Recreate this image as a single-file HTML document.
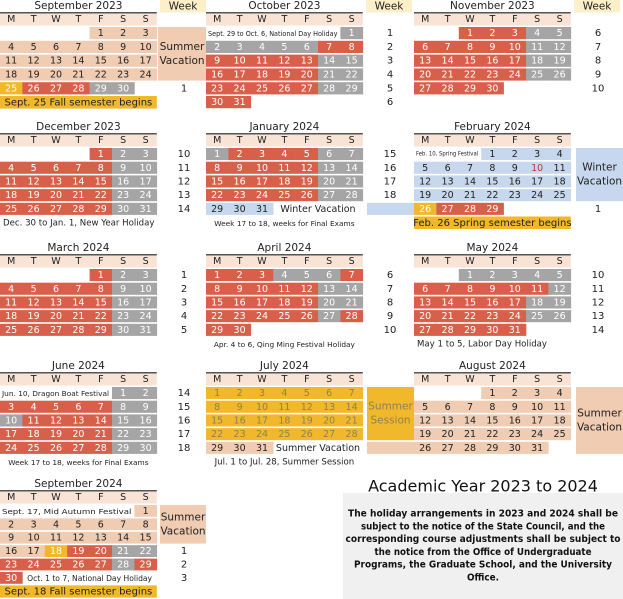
<!DOCTYPE html>
<html><head><meta charset="utf-8"><style>
html,body{margin:0;padding:0;background:#fff;width:623px;height:599px;overflow:hidden}
svg{display:block}
text{font-family:"DejaVu Sans","Liberation Sans",sans-serif}
</style></head><body>
<svg id="cal" width="623" height="599" viewBox="0 0 623 599" xmlns="http://www.w3.org/2000/svg"></svg>
<script>
// ---- data ----
const monthNames=["September 2023","October 2023","November 2023","December 2023","January 2024","February 2024","March 2024","April 2024","May 2024","June 2024","July 2024","August 2024","September 2024"];
const monthOffsets=[4,6,2,4,0,3,4,0,2,5,0,3,6];
const monthDays=[30,31,30,31,31,29,31,30,31,30,31,31,30];
// day colors: p peach, r red, g gray, y yellow, b blue, s summer session, S=standard (r weekday, g weekend)
const monthColors=[
 "pppppppppppppppppppppppp"+"yrrrgg",
 "gggggg"+"rr"+"rrrrrgg"+"rrrrrgg"+"rrrrrgg"+"rr",
 "S","S",
 "g"+"SSSSSSSSSSSSSSSSSSSSSSSSSSS"+"bbb",
 "bbbbbbbbbbbbbbbbbbbbbbbbb"+"yrrr",
 "S",
 "rrrgggr"+"rrrrrgg"+"rrrrrgg"+"rrrrrgr"+"rr",
 "ggggg"+"rrrrrrg"+"rrrrrgg"+"rrrrrgg"+"rrrrr",
 "gg"+"rrrrrgg"+"grrrrgg"+"rrrrrgg"+"rrrrrgg",
 "ssssssssssssssssssssssssssss"+"ppp",
 "S_AUG",
 "ppppppppppppppp"+"ppyrrgg"+"rrrrrgr"+"r"
];
const weekLabels=[
 ["","","","","1"],["1","2","3","4","5","6"],["6","7","8","9","10"],
 ["10","11","12","13","14"],["15","16","17","18",""],["","","","","1"],
 ["1","2","3","4","5"],["6","7","8","9","10"],["10","11","12","13","14"],
 ["14","15","16","17","18"],["","","","",""],["","","","",""],
 ["","","","1","2","3"]
];
const firstRowNotes=["","Sept. 29 to Oct. 6, National Day Holiday","","","","Feb. 10, Spring Festival","","","","Jun. 10, Dragon Boat Festival","","","Sept. 17, Mid Autumn Festival"];
const lastRowNotes=["","","","","Winter Vacation","","","","","","Summer Vacation","","Oct. 1 to 7, National Day Holiday"];
const footerNotes=["","","","Dec. 30 to Jan. 1, New Year Holiday","Week 17 to 18, weeks for Final Exams","","","Apr. 4 to 6, Qing Ming Festival Holiday","May 1 to 5, Labor Day Holiday","Week 17 to 18, weeks for Final Exams","Jul. 1 to Jul. 28, Summer Session","",""];
const footerBanners=["Sept. 25 Fall semester begins","","","","","Feb. 26 Spring semester begins","","","","","","","Sept. 18 Fall semester begins"];
const weekdayLetters=["M","T","W","T","F","S","S"];

// ---- layout ----
const BX=[0,206,414], BY=[0,121,242,360,478], RH=[13.8,13.7,13.7,13.7,13.4], CW=22.4;
const COL={p:"#f0ccb2",r:"#d8604a",g:"#a5a5a5",y:"#f0b82a",b:"#c7d8ee",s:"#f0b82a"};
const TXT={p:"#222",r:"#fff",g:"#fff",y:"#fff",b:"#222",s:"#8d8350"};
const svg=document.getElementById('cal');
const NS="http://www.w3.org/2000/svg";
function mk(tag,attrs,parent){const e=document.createElementNS(NS,tag);for(const k in attrs)e.setAttribute(k,attrs[k]);(parent||svg).appendChild(e);return e;}
function txt(s,x,y,size,fill,anchor,parent,weight){const t=mk('text',{x:x,y:y,'font-size':size,fill:fill||'#222','text-anchor':anchor||'middle','dominant-baseline':'central','font-weight':weight||'normal'},parent);t.textContent=s;return t;}

// week column decorations (behind)
const decor=[
 {m:0,r0:0,r1:3,c:"#f0ccb2",t:["Summer","Vacation"],x0:158,x1:206},
 {m:4,r0:4,r1:4,c:"#c7d8ee",t:[],x0:161,x1:208},
 {m:5,r0:0,r1:3,c:"#c7d8ee",t:["Winter","Vacation"],x0:162,x1:209},
 {m:10,r0:0,r1:3,c:"#f0b82a",t:["Summer","Session"],x0:161,x1:208},
 {m:10,r0:4,r1:4,c:"#f0ccb2",t:[],x0:161,x1:208},
 {m:11,r0:0,r1:4,c:"#f0ccb2",t:["Summer","Vacation"],x0:162,x1:209},
 {m:12,r0:0,r1:2,c:"#f0ccb2",t:["Summer","Vacation"],x0:160,x1:206}
];

// week headers
for(let b=0;b<3;b++){
 const g=mk('g',{});
 
 
 mk('rect',{x:BX[b]+160,y:0,width:46,height:12.5,fill:"#fdf0c8"},g);
 txt("Week",BX[b]+183,6.5,10.5,"#222","middle",g);
}

monthNames.forEach((name,m)=>{
 const bx=BX[m%3], row=Math.floor(m/3), T=BY[row], rh=RH[row];
 const g=mk('g',{});
 
 
 const y0=T+27;
 // decorations
 decor.filter(d=>d.m===m).forEach(d=>{
  const r=mk('rect',{x:bx+d.x0,y:y0+d.r0*rh,width:d.x1-d.x0,height:(d.r1-d.r0+1)*rh-1.6,fill:d.c},g);
  
  
  if(d.t.length){
   const cy=y0+(d.r0+d.r1+1)*rh/2-0.8;
   txt(d.t[0],bx+(d.x0+d.x1)/2,cy-7,10.5,d.c==="#f0b82a"?"#8d8350":"#222","middle",g);
   txt(d.t[1],bx+(d.x0+d.x1)/2,cy+7,10.5,d.c==="#f0b82a"?"#8d8350":"#222","middle",g);
  }
 });
 // title
 const tt=txt(name,bx+CW*3.5,T+6,10.5,"#222","middle",g);
 
 
 mk('rect',{x:bx,y:T+12,width:CW*7,height:13.5,fill:"#f8e3d4"},g);
 mk('rect',{x:bx,y:T+12,width:CW*7,height:1.5,fill:"#555"},g);
 weekdayLetters.forEach((l,i)=>txt(l,bx+CW*(i+0.5),T+19.5,9.5,"#222","middle",g));
 // days
 let spec=monthColors[m];
 const off=monthOffsets[m], nd=monthDays[m];
 for(let d=1;d<=nd;d++){
  const idx=off+d-1, r=Math.floor(idx/7), c=idx%7;
  let k;
  if(spec==="S"){k=c>=5?'g':'r';}
  else if(spec==="S_AUG"){k='p';}
  else{k=spec[d-1]; if(k==='S')k=c>=5?'g':'r';}
  const x=bx+c*CW, y=y0+r*rh;
  const cell=mk('rect',{x:x,y:y,width:CW+0.3,height:rh-1.6,fill:COL[k]},g);
  
  
  let fc=TXT[k]; if(m===5&&d===10)fc="#c0392b";
  txt(String(d),x+CW/2,y+(rh-1.6)/2+0.5,9.5,fc,"middle",g);
 }
 const nRows=Math.ceil((off+nd)/7);
 // first-row note
 if(firstRowNotes[m]){
  const n=txt(firstRowNotes[m],bx+2,y0+(rh-1.6)/2+0.5,m===5?5.8:7.4,"#222","start",g);
  n.setAttribute('textLength',(off*CW-5).toFixed(1));
  n.setAttribute('lengthAdjust','spacingAndGlyphs');
 }
 if(lastRowNotes[m]){
  const lastIdx=off+nd; const c0=lastIdx%7; const yy=y0+(nRows-1)*rh+(rh-1.6)/2+0.5;
  txt(lastRowNotes[m],bx+CW*(c0+7)/2,yy,m===12?7.6:9.5,"#222","middle",g);
 }
 // week labels
 weekLabels[m].forEach((w,i)=>{if(w){const t=txt(w,bx+184,y0+i*rh+(rh-1.6)/2+0.5,10,"#222","middle",g);}});
 const fy=y0+nRows*rh;
 if(footerBanners[m]){
  const r=mk('rect',{x:bx,y:fy,width:CW*7,height:rh-1.2,fill:"#f0b82a"},g);
  
  
  txt(footerBanners[m],bx+CW*3.5,fy+(rh-1.2)/2+0.5,10,"#222","middle",g);
 }
 if(footerNotes[m]){
  const small=footerNotes[m].startsWith("Week")||m===7;
  const n=txt(footerNotes[m],m===3||m===8?bx+3:bx+CW*3.5,fy+(rh-1.6)/2+1,small?7.4:8.6,"#222",m===3||m===8?"start":"middle",g);
  
  
 }
});

// academic year title + notice
const at=txt("Academic Year 2023 to 2024",483,486,16,"#111","middle");
at.setAttribute('font-family','"Liberation Sans",sans-serif');


const box=mk('rect',{x:343,y:493,width:280,height:106,fill:"#f0f0f0"});


const lines=[["The holiday arrangements in 2023 and 2024 shall be",270],["subject to the notice of the State Council, and the",244],["corresponding course adjustments shall be subject to",275],["the notice from the Office of Undergraduate",217],["Programs, the Graduate School, and the University",258],["Office.",32]];
lines.forEach((l,i)=>{
 const t=txt(l[0],483,514+i*12.8,10,"#111","middle",null,"bold");
 t.setAttribute('font-family','"Liberation Sans",sans-serif');
 t.setAttribute('textLength',l[1]);
 t.setAttribute('lengthAdjust','spacingAndGlyphs');
 
 
});
</script>
</body></html>
